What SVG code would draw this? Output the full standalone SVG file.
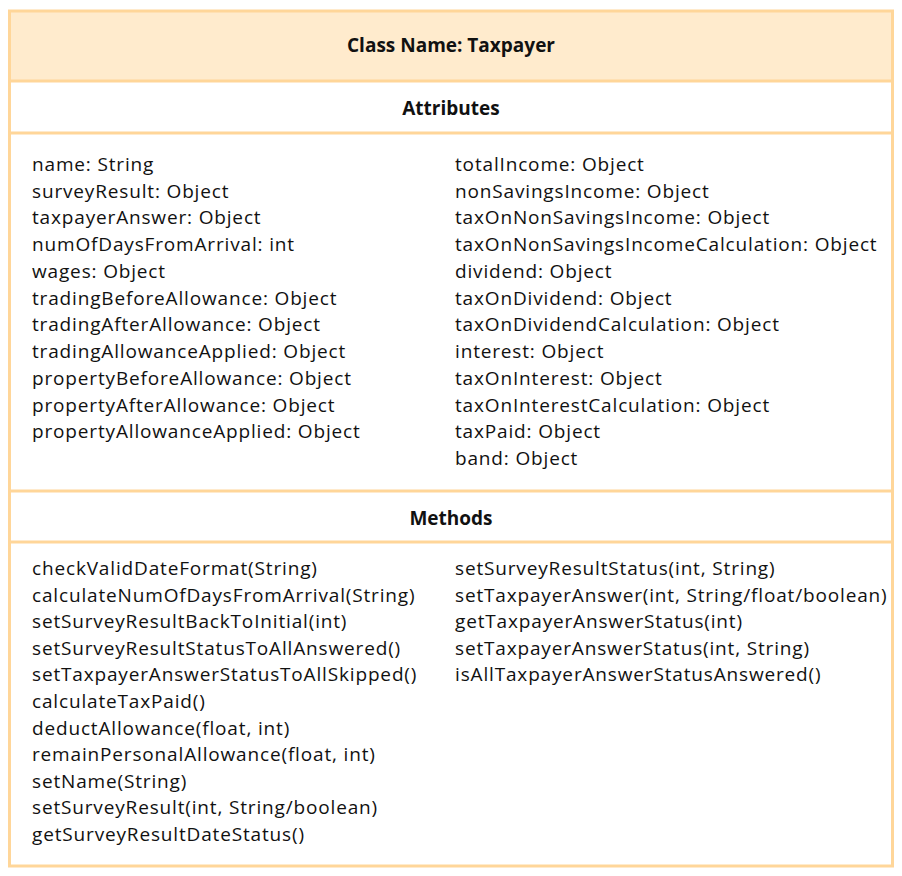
<svg xmlns="http://www.w3.org/2000/svg" width="902" height="876" viewBox="0 0 902 876">
<style>
.bd{fill:none;stroke:#FFD699;stroke-width:3}
.t{font-family:"Open Sans","Liberation Sans",sans-serif;font-size:19px;letter-spacing:0.84px;fill:#111}
.h{font-family:"Open Sans","Liberation Sans",sans-serif;font-size:19px;font-weight:bold;fill:#111;text-anchor:middle}
</style>
<rect x="0" y="0" width="902" height="876" fill="#fff"/>
<g id="taxpayer">
<rect x="9.5" y="11" width="883" height="70" fill="#FFEBCD"/>
<rect class="bd" x="9.5" y="11" width="883" height="855"/>
<line class="bd" x1="9.5" y1="81" x2="892.5" y2="81"/>
<line class="bd" x1="9.5" y1="133" x2="892.5" y2="133"/>
<line class="bd" x1="9.5" y1="491" x2="892.5" y2="491"/>
<line class="bd" x1="9.5" y1="542" x2="892.5" y2="542"/>
<text class="h" x="451" y="52">Class Name: Taxpayer</text>
<text class="h" x="451" y="115">Attributes</text>
<text class="h" x="451" y="525">Methods</text>
<text class="t" x="32" y="171">
<tspan x="32" dy="0">name: String</tspan>
<tspan x="32" dy="26.73">surveyResult: Object</tspan>
<tspan x="32" dy="26.73">taxpayerAnswer: Object</tspan>
<tspan x="32" dy="26.73">numOfDaysFromArrival: int</tspan>
<tspan x="32" dy="26.73">wages: Object</tspan>
<tspan x="32" dy="26.73">tradingBeforeAllowance: Object</tspan>
<tspan x="32" dy="26.73">tradingAfterAllowance: Object</tspan>
<tspan x="32" dy="26.73">tradingAllowanceApplied: Object</tspan>
<tspan x="32" dy="26.73">propertyBeforeAllowance: Object</tspan>
<tspan x="32" dy="26.73">propertyAfterAllowance: Object</tspan>
<tspan x="32" dy="26.73">propertyAllowanceApplied: Object</tspan>
</text>
<text class="t" x="455" y="171">
<tspan x="455" dy="0">totalIncome: Object</tspan>
<tspan x="455" dy="26.73">nonSavingsIncome: Object</tspan>
<tspan x="455" dy="26.73">taxOnNonSavingsIncome: Object</tspan>
<tspan x="455" dy="26.73">taxOnNonSavingsIncomeCalculation: Object</tspan>
<tspan x="455" dy="26.73">dividend: Object</tspan>
<tspan x="455" dy="26.73">taxOnDividend: Object</tspan>
<tspan x="455" dy="26.73">taxOnDividendCalculation: Object</tspan>
<tspan x="455" dy="26.73">interest: Object</tspan>
<tspan x="455" dy="26.73">taxOnInterest: Object</tspan>
<tspan x="455" dy="26.73">taxOnInterestCalculation: Object</tspan>
<tspan x="455" dy="26.73">taxPaid: Object</tspan>
<tspan x="455" dy="26.73">band: Object</tspan>
</text>
<text class="t" x="32" y="575">
<tspan x="32" dy="0">checkValidDateFormat(String)</tspan>
<tspan x="32" dy="26.6">calculateNumOfDaysFromArrival(String)</tspan>
<tspan x="32" dy="26.6">setSurveyResultBackToInitial(int)</tspan>
<tspan x="32" dy="26.6">setSurveyResultStatusToAllAnswered()</tspan>
<tspan x="32" dy="26.6">setTaxpayerAnswerStatusToAllSkipped()</tspan>
<tspan x="32" dy="26.6">calculateTaxPaid()</tspan>
<tspan x="32" dy="26.6">deductAllowance(float, int)</tspan>
<tspan x="32" dy="26.6">remainPersonalAllowance(float, int)</tspan>
<tspan x="32" dy="26.6">setName(String)</tspan>
<tspan x="32" dy="26.6">setSurveyResult(int, String/boolean)</tspan>
<tspan x="32" dy="26.6">getSurveyResultDateStatus()</tspan>
</text>
<text class="t" x="455" y="575">
<tspan x="455" dy="0">setSurveyResultStatus(int, String)</tspan>
<tspan x="455" dy="26.6">setTaxpayerAnswer(int, String/float/boolean)</tspan>
<tspan x="455" dy="26.6">getTaxpayerAnswerStatus(int)</tspan>
<tspan x="455" dy="26.6">setTaxpayerAnswerStatus(int, String)</tspan>
<tspan x="455" dy="26.6">isAllTaxpayerAnswerStatusAnswered()</tspan>
</text>
</g>
</svg>
